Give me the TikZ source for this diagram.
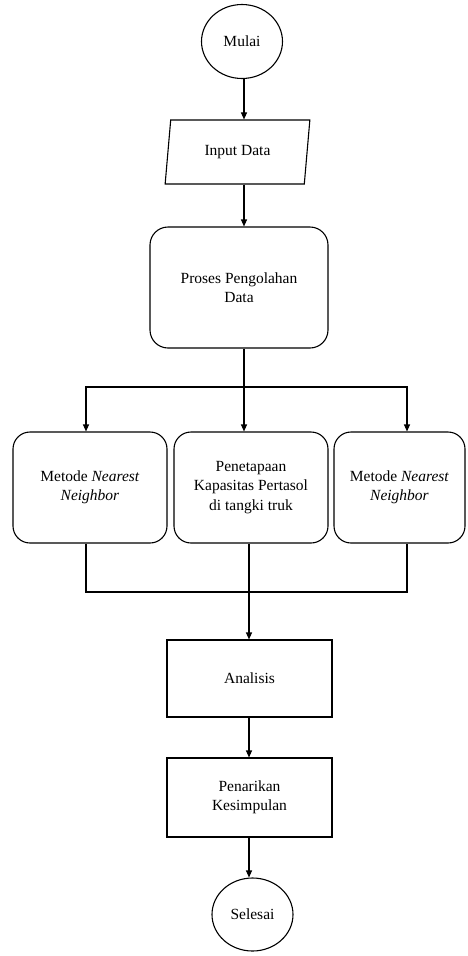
\documentclass[tikz,border=0pt]{standalone}
\usepackage{fontspec}
\setmainfont{Liberation Serif}
\newfontfamily\flowserif{Liberation Serif}
\usetikzlibrary{shapes.geometric,arrows.meta}
\begin{document}
\begin{tikzpicture}[x=1pt,y=-1pt,
  every node/.style={font=\flowserif\fontsize{15.5}{19.5}\selectfont, align=center, line width=1.1pt},
  term/.style={draw, ellipse, minimum width=81pt, minimum height=74pt, inner sep=0pt},
  io/.style={draw, trapezium, trapezium left angle=78.5, trapezium right angle=101.5, trapezium stretches=true, minimum width=145pt, minimum height=64pt, inner sep=0pt},
  proc/.style={draw, rectangle, rounded corners=18pt, inner sep=0pt},
  box/.style={draw, rectangle, inner sep=0pt, minimum width=165pt},
  line/.style={line width=1.1pt},
  arr/.style={line width=1.1pt, -{Triangle[length=7pt,width=6pt]}}
]
\useasboundingbox (0,0) rectangle (467,956);
% columns
\coordinate (xc) at (244,0);
\coordinate (xL) at (86,0);
\coordinate (xR) at (407,0);
\coordinate (xB) at (249,0);

\node[term] (mulai) at (242,41.5) {Mulai};
\node[io] (input) at (237.5,152) {Input Data};
\node[proc, minimum width=178pt, minimum height=121pt] (proses) at (239,287.5) {Proses Pengolahan\\Data};

\node[proc, minimum width=154pt, minimum height=111pt, rounded corners=17pt] (m1) at (90,487.5) {Metode \textit{Nearest}\\\textit{Neighbor}};
\node[proc, minimum width=154pt, minimum height=111pt, rounded corners=17pt] (m2) at (251,487.5) {Penetapaan\\Kapasitas Pertasol\\di tangki truk};
\node[proc, minimum width=131pt, minimum height=111pt, rounded corners=17pt] (m3) at (399.5,487.5) {Metode \textit{Nearest}\\\textit{Neighbor}};

\node[box, minimum height=77pt] (analisis) at (249.5,678.5) {Analisis};
\node[box, minimum height=79pt] (tarik) at (249.5,797.5) {Penarikan\\Kesimpulan};
\node[term, minimum height=73pt] (selesai) at (252.5,914.5) {Selesai};

\coordinate (split) at (244,387);
\coordinate (merge) at (249,592);

\draw[arr] (mulai.south -| xc) -- (input.north -| xc);
\draw[arr] (input.south -| xc) -- (proses.north -| xc);
\draw[line] (proses.south -| xc) -- (split);
\draw[arr] (split) -- (m2.north -| xc);
\draw[arr] (split) -| (m1.north -| xL);
\draw[arr] (split) -| (m3.north -| xR);

\draw[line] (m1.south -| xL) |- (merge) -| (m3.south -| xR);
\draw[arr] (m2.south -| xB) -- (analisis.north -| xB);
\draw[arr] (analisis.south -| xB) -- (tarik.north -| xB);
\draw[arr] (tarik.south -| xB) -- (selesai.north -| xB);
\end{tikzpicture}
\end{document}
